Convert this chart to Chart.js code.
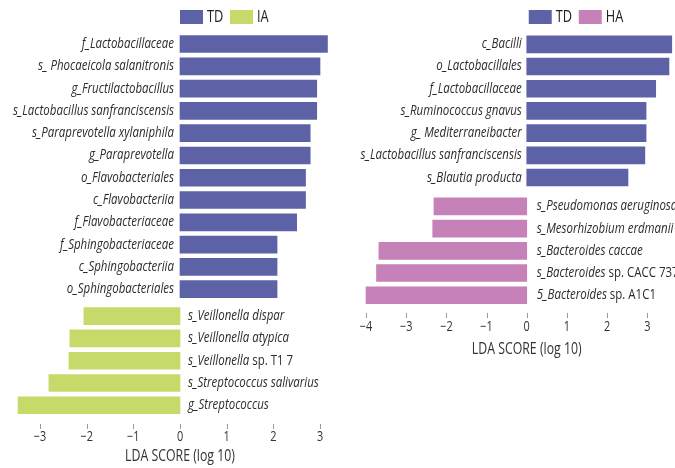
<!DOCTYPE html>
<html>
<head>
<meta charset="utf-8">
<script src="https://cdn.jsdelivr.net/npm/chart.js@4.4.1/dist/chart.umd.min.js"></script>
<style>
  body { margin: 0; background: #fff; width: 675px; height: 468px; overflow: hidden; position: relative; }
  #boxIA { position: absolute; left: 0; top: 0; width: 340px; height: 468px; }
  #boxHA { position: absolute; left: 340px; top: 0; width: 335px; height: 468px; }
</style>
</head>
<body>
<div id="boxIA"><canvas id="chartIA" width="340" height="468"></canvas></div>
<div id="boxHA"><canvas id="chartHA" width="335" height="468"></canvas></div>
<script>
// left panel: TD vs IA
var tdNamesIA = [
  'f_Lactobacillaceae', 's_ Phocaeicola salanitronis', 'g_Fructilactobacillus',
  's_Lactobacillus sanfranciscensis', 's_Paraprevotella xylaniphila', 'g_Paraprevotella',
  'o_Flavobacteriales', 'c_Flavobacteriia', 'f_Flavobacteriaceae',
  'f_Sphingobacteriaceae', 'c_Sphingobacteriia', 'o_Sphingobacteriales'
];
var tdScoresIA = [3.16, 3.0, 2.93, 2.93, 2.79, 2.79, 2.69, 2.69, 2.5, 2.08, 2.08, 2.08];
var iaNames = [
  's_Veillonella dispar', 's_Veillonella atypica', 's_Veillonella sp. T1 7',
  's_Streptococcus salivarius', 'g_Streptococcus'
];
var iaScores = [-2.06, -2.36, -2.38, -2.81, -3.47];
var ticksIA = [-3, -2, -1, 0, 1, 2, 3];

// right panel: TD vs HA
var tdNamesHA = [
  'c_Bacilli', 'o_Lactobacillales', 'f_Lactobacillaceae', 's_Ruminococcus gnavus',
  'g_ Mediterraneibacter', 's_Lactobacillus sanfranciscensis', 's_Blautia producta'
];
var tdScoresHA = [3.61, 3.54, 3.21, 2.97, 2.97, 2.94, 2.52];
var haNames = [
  's_Pseudomonas aeruginosa', 's_Mesorhizobium erdmanii', 's_Bacteroides caccae',
  's_Bacteroides sp. CACC 737', '5_Bacteroides sp. A1C1'
];
var haScores = [-2.31, -2.34, -3.68, -3.74, -4.0];
var ticksHA = [-4, -3, -2, -1, 0, 1, 2, 3];

var axisTitle = 'LDA SCORE (log 10)';
var tdColor = '#5c62a5';
var iaColor = '#c5da69';
var haColor = '#c681b8';

var SX = 0.82;  // fake the condensed face of the original
var FONT = '"Open Sans", sans-serif';

function splitName(name) {
  var k = name.indexOf(' sp. ');
  if (k < 0) return [{t: name, it: true}];
  return [{t: name.slice(0, k), it: true}, {t: name.slice(k), it: false}];
}

function drawParts(ctx, parts, x, y, align, size, color, sx) {
  sx = sx || SX;
  var w = 0;
  parts.forEach(function(p) {
    ctx.font = (p.it ? 'italic ' : '') + '500 ' + size + 'px ' + FONT;
    p.w = ctx.measureText(p.t).width;
    w += p.w;
  });
  var x0 = x;
  if (align === 'right') x0 = x - w * sx;
  if (align === 'center') x0 = x - w * sx / 2;
  ctx.save();
  ctx.translate(x0, y);
  ctx.scale(sx, 1);
  ctx.fillStyle = color;
  ctx.textBaseline = 'middle';
  ctx.textAlign = 'left';
  var cx = 0;
  parts.forEach(function(p) {
    ctx.font = (p.it ? 'italic ' : '') + '500 ' + size + 'px ' + FONT;
    ctx.fillText(p.t, cx, 0);
    cx += p.w;
  });
  ctx.restore();
}

var lefsePlugin = {
  id: 'lefse',
  afterDraw: function(chart) {
    var o = chart.options.plugins.lefse;
    var ctx = chart.ctx;
    var xs = chart.scales.x;
    var area = chart.chartArea;
    var zero = xs.getPixelForValue(0);

    // feature names next to the bars
    chart.data.datasets.forEach(function(ds, i) {
      var meta = chart.getDatasetMeta(i);
      meta.data.forEach(function(bar, j) {
        var parts = splitName(ds.names[j]);
        if (ds.data[j].x >= 0) {
          drawParts(ctx, parts, zero - o.gapLeft, bar.y, 'right', 14, '#2b2b2b');
        } else {
          drawParts(ctx, parts, zero + o.gapRight, bar.y, 'left', 14, '#2b2b2b');
        }
      });
    });

    // legend
    var lx = zero + o.legendShift;
    chart.data.datasets.forEach(function(ds, i) {
      var bx = lx + i * 50;
      ctx.fillStyle = ds.backgroundColor;
      ctx.fillRect(bx, 10, 23, 14);
      drawParts(ctx, [{t: ds.label, it: false}], bx + 27, 17, 'left', 16, '#222', 0.8);
    });

    // x axis ticks, labels and title
    ctx.save();
    ctx.strokeStyle = '#9a9a9a';
    ctx.lineWidth = 1;
    o.ticks.forEach(function(t) {
      var px = Math.round(xs.getPixelForValue(t)) + 0.5;
      ctx.beginPath();
      ctx.moveTo(px, area.bottom);
      ctx.lineTo(px, area.bottom + 5);
      ctx.stroke();
    });
    ctx.restore();
    o.ticks.forEach(function(t) {
      var txt = t < 0 ? '\u2212' + Math.abs(t) : String(t);
      drawParts(ctx, [{t: txt, it: false}], xs.getPixelForValue(t), area.bottom + o.tickDy, 'center', 14, '#333', 0.78);
    });
    drawParts(ctx, [{t: axisTitle, it: false}], zero, area.bottom + o.titleDy, 'center', 16, '#333', 0.77);
  }
};

function makePanel(id, tdNames, tdScores, otherNames, otherScores, otherLabel, otherColor, gap, xMin, xMax, yMax, pad, extra) {
  var tdData = tdScores.map(function(v, i) { return {x: v, y: i}; });
  var otherData = otherScores.map(function(v, j) { return {x: v, y: tdNames.length - 1 + gap + j}; });
  return new Chart(document.getElementById(id), {
    type: 'bar',
    data: {
      datasets: [
        { label: 'TD', data: tdData, names: tdNames, backgroundColor: tdColor },
        { label: otherLabel, data: otherData, names: otherNames, backgroundColor: otherColor }
      ]
    },
    options: {
      indexAxis: 'y',
      responsive: false,
      animation: false,
      layout: { padding: pad },
      datasets: { bar: { grouped: false, barThickness: 17, borderWidth: 0 } },
      scales: {
        x: { type: 'linear', min: xMin, max: xMax, display: false, offset: false },
        y: { type: 'linear', min: -0.5, max: yMax, reverse: true, display: false, offset: false }
      },
      plugins: {
        legend: { display: false },
        tooltip: { enabled: false },
        lefse: extra
      }
    },
    plugins: [lefsePlugin]
  });
}

makePanel('chartIA', tdNamesIA, tdScoresIA, iaNames, iaScores, 'IA', iaColor,
  1.21, -3.6, 3.3, 17.05,
  { top: 32.9, left: 12, right: 6, bottom: 44 },
  { gapLeft: 6, gapRight: 8, legendShift: 0, ticks: ticksIA, tickDy: 13, titleDy: 32 });

makePanel('chartHA', tdNamesHA, tdScoresHA, haNames, haScores, 'HA', haColor,
  1.3, -4.2, 3.69, 12.1,
  { top: 33.2, left: 18, right: 0, bottom: 155 },
  { gapLeft: 5, gapRight: 10, legendShift: 2, ticks: ticksHA, tickDy: 14, titleDy: 36 });
</script>
</body>
</html>
